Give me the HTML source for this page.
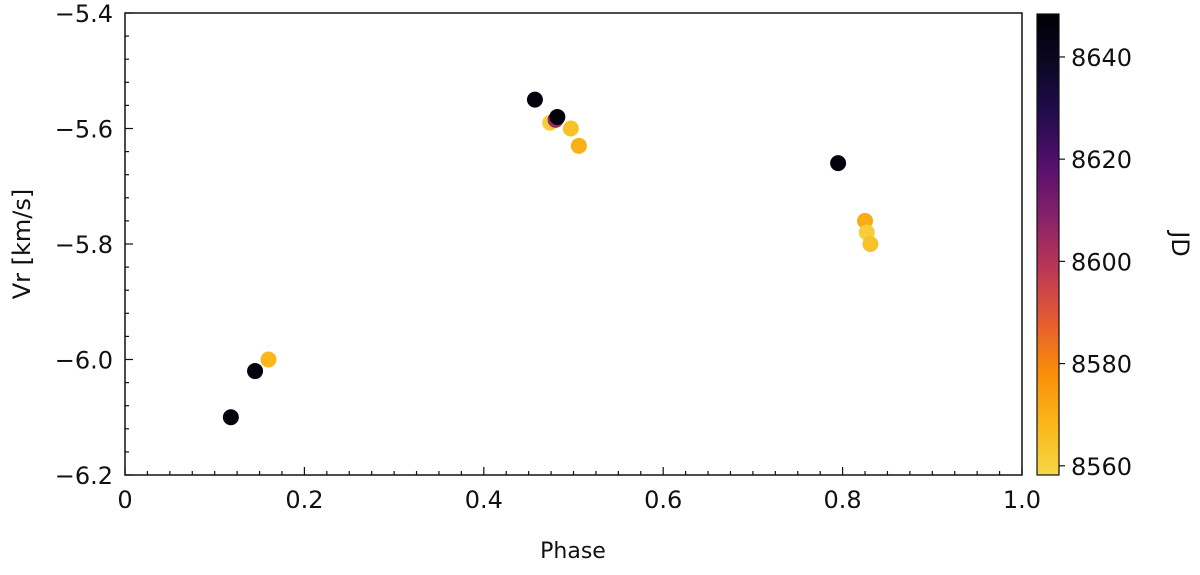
<!DOCTYPE html>
<html><head><meta charset="utf-8"><style>
body{margin:0;background:#fff;}
svg text{font-family:"DejaVu Sans","Liberation Sans",sans-serif;fill:#111;}
</style></head><body>
<svg id="chart" width="1200" height="570" xmlns="http://www.w3.org/2000/svg">
<defs><linearGradient id="cmap" x1="0" y1="1" x2="0" y2="0">
<stop offset="0" stop-color="#f6d746"/><stop offset="0.111" stop-color="#fbb61a"/><stop offset="0.222" stop-color="#f98e09"/><stop offset="0.333" stop-color="#e55c30"/><stop offset="0.444" stop-color="#bc3754"/><stop offset="0.556" stop-color="#89226a"/><stop offset="0.667" stop-color="#57106e"/><stop offset="0.778" stop-color="#240c4f"/><stop offset="0.889" stop-color="#0c0826"/><stop offset="1" stop-color="#000004"/>
</linearGradient></defs>
<g id="ticks"></g><g id="marks"></g>
<rect x="125" y="13" width="897" height="462" fill="none" stroke="#111" stroke-width="1.5"/>
<rect x="1037" y="14" width="22" height="461" fill="url(#cmap)" stroke="#111" stroke-width="1.2"/>
<text x="573" y="558" font-size="22" text-anchor="middle">Phase</text>
<text transform="translate(30,244) rotate(-90)" font-size="24" text-anchor="middle">Vr [km/s]</text>
<text transform="translate(1172,244) rotate(90)" font-size="24" text-anchor="middle">JD</text>
</svg>
<script>
const xTicks=[0,0.2,0.4,0.6,0.8,1.0];
const xTickLabels=["0","0.2","0.4","0.6","0.8","1.0"];
const yTicks=[-5.4,-5.6,-5.8,-6.0,-6.2];
const yTickLabels=["\u22125.4","\u22125.6","\u22125.8","\u22126.0","\u22126.2"];
const cTicks=[8560,8580,8600,8620,8640];
const phase=[0.118,0.145,0.16,0.457,0.474,0.48,0.482,0.497,0.506,0.795,0.825,0.827,0.831];
const vr=[-6.1,-6.02,-6.0,-5.55,-5.59,-5.585,-5.58,-5.6,-5.63,-5.66,-5.76,-5.78,-5.8];
const jd=[8646,8646,8568,8646,8561,8605,8646,8565,8570,8646,8571,8561,8565];
const X=v=>125+v*897, Y=v=>13+(-5.4-v)/0.8*462;
const C0=8558.2,C1=8648.6, CY=v=>475-(v-C0)/(C1-C0)*462;
const stops=[[0,[246,215,70]],[0.111,[251,182,26]],[0.222,[249,142,9]],[0.333,[229,92,48]],[0.444,[188,55,84]],[0.556,[137,34,106]],[0.667,[87,16,110]],[0.778,[36,12,79]],[0.889,[12,8,38]],[1,[0,0,4]]];
function col(v){let t=Math.max(0,Math.min(1,(v-C0)/(C1-C0)));for(let i=1;i<stops.length;i++){if(t<=stops[i][0]){const a=stops[i-1],b=stops[i],f=(t-a[0])/(b[0]-a[0]);return 'rgb('+a[1].map((c,k)=>Math.round(c+(b[1][k]-c)*f)).join(',')+')';}}return 'rgb(0,0,4)';}
const NS='http://www.w3.org/2000/svg';
const tg=document.getElementById('ticks'),mg=document.getElementById('marks');
function mk(tag,attrs,parent,text){const e=document.createElementNS(NS,tag);for(const k in attrs)e.setAttribute(k,attrs[k]);if(text!==undefined)e.textContent=text;parent.appendChild(e);return e;}
for(let i=0;i<=40;i++){const v=i*0.025,x=X(v),maj=i%8===0;
mk('line',{x1:x,x2:x,y1:475,y2:475-(maj?8:4),stroke:'#111','stroke-width':1.2},tg);}
for(let i=0;i<=20;i++){const y=13+i*462/20,maj=i%5===0;
mk('line',{x1:125,x2:125+(maj?8:4),y1:y,y2:y,stroke:'#111','stroke-width':1.2},tg);}
xTicks.forEach((v,i)=>{const t=mk('text',{x:X(v),y:508,'font-size':24,'text-anchor':'middle'},tg,xTickLabels[i]);

});
yTicks.forEach((v,i)=>{const t=mk('text',{x:113,y:Y(v)+9,'font-size':24,'text-anchor':'end'},tg,yTickLabels[i]);

});
cTicks.forEach(v=>{mk('line',{x1:1059,x2:1065,y1:CY(v),y2:CY(v),stroke:'#111','stroke-width':1.2},tg);
const t=mk('text',{x:1071,y:CY(v)+9,'font-size':24},tg,String(v));

});
phase.forEach((p,i)=>{const c=mk('circle',{cx:X(p),cy:Y(vr[i]),r:8,fill:col(jd[i])},mg);

});
</script>
</body></html>
